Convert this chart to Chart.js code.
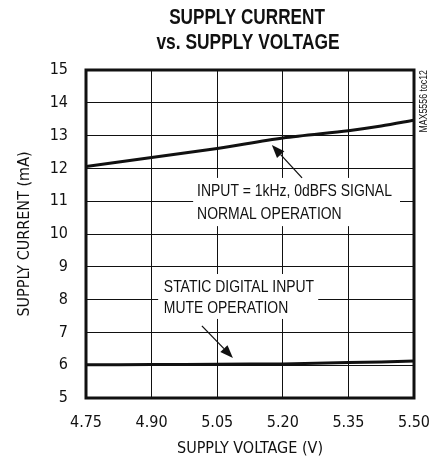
<!DOCTYPE html>
<html><head><meta charset="utf-8">
<script src="https://cdn.jsdelivr.net/npm/chart.js@4"></script>
<style>html,body{margin:0;padding:0;background:#fff;}#wrap{width:438px;height:461px;}</style>
</head><body><div id="wrap"><canvas id="c" width="438" height="461"></canvas></div>
<script>
const voltage = [4.75, 4.90, 5.05, 5.20, 5.35, 5.425, 5.50];
const normalCurrent = [12.06, 12.33, 12.61, 12.93, 13.15, 13.29, 13.47];
const muteCurrent = [6.01, 6.02, 6.03, 6.04, 6.08, 6.10, 6.13];
const xTickValues = [4.75, 4.90, 5.05, 5.20, 5.35, 5.50];
const yTickValues = [5, 6, 7, 8, 9, 10, 11, 12, 13, 14, 15];
const titleLines = ['SUPPLY CURRENT', 'vs. SUPPLY VOLTAGE'];
const xTitle = 'SUPPLY VOLTAGE (V)';
const yTitle = 'SUPPLY CURRENT (mA)';
const sideNote = 'MAX5556 toc12';
const noteNormal = ['INPUT = 1kHz, 0dBFS SIGNAL', 'NORMAL OPERATION'];
const noteMute = ['STATIC DIGITAL INPUT', 'MUTE OPERATION'];

const FONT = '"Liberation Sans Narrow", "DejaVu Sans Condensed", "Liberation Sans", sans-serif';

const annotations = [
  {box:[4.995, 11.71, 5.468, 10.24], textX:5.004, lines:noteNormal, lineY:[11.31, 10.61],
   arrow:[5.244, 11.71, 5.175, 12.71]},
  {box:[4.915, 8.78, 5.281, 7.41], textX:4.928, lines:noteMute, lineY:[8.38, 7.74],
   arrow:[5.015, 7.20, 5.086, 6.22]}
];

function narrowText(ctx, text, x, y, font, align, sx){
  ctx.save();
  ctx.font = font;
  ctx.textAlign = align; ctx.textBaseline='middle';
  ctx.translate(x, y);
  ctx.scale(sx, 1);
  ctx.fillText(text, 0, 0);
  ctx.restore();
}

const extras = {
  id:'extras',
  beforeDatasetsDraw(chart){
    const {ctx, scales:{x, y}} = chart;
    ctx.save();
    annotations.forEach(a=>{
      const x1=x.getPixelForValue(a.box[0]), y1=y.getPixelForValue(a.box[1]);
      const x2=x.getPixelForValue(a.box[2]), y2=y.getPixelForValue(a.box[3]);
      ctx.fillStyle='#fff';
      ctx.fillRect(x1,y1,x2-x1,y2-y1);
      ctx.fillStyle='#111';
      a.lines.forEach((t,i)=>narrowText(ctx, t, x.getPixelForValue(a.textX), y.getPixelForValue(a.lineY[i]), '17px "Liberation Sans", Arial, sans-serif', 'left', 0.82));
    });
    ctx.restore();
  },
  afterDatasetsDraw(chart){
    const {ctx, chartArea:ca, scales:{x, y}} = chart;
    ctx.save();
    annotations.forEach(a=>{
      const x1=x.getPixelForValue(a.arrow[0]), y1=y.getPixelForValue(a.arrow[1]);
      const x2=x.getPixelForValue(a.arrow[2]), y2=y.getPixelForValue(a.arrow[3]);
      const ang=Math.atan2(y2-y1,x2-x1);
      const L=13, W=5;
      const bx=x2-L*Math.cos(ang), by=y2-L*Math.sin(ang);
      ctx.strokeStyle='#111'; ctx.lineWidth=1.3;
      ctx.beginPath(); ctx.moveTo(x1,y1); ctx.lineTo(bx,by); ctx.stroke();
      ctx.fillStyle='#111';
      ctx.beginPath();
      ctx.moveTo(x2,y2);
      ctx.lineTo(bx+W*Math.sin(ang), by-W*Math.cos(ang));
      ctx.lineTo(bx-W*Math.sin(ang), by+W*Math.cos(ang));
      ctx.closePath(); ctx.fill();
    });
    ctx.strokeStyle='#111'; ctx.lineWidth=3;
    ctx.strokeRect(ca.left, ca.top, ca.right-ca.left, ca.bottom-ca.top);
    ctx.restore();
  },
  afterDraw(chart){
    const {ctx, chartArea:ca} = chart;
    ctx.save();
    ctx.fillStyle='#111';
    const cx=(ca.left+ca.right)/2;
    narrowText(ctx, titleLines[0], cx - 3, 18, 'bold 22px "Liberation Sans", Arial, sans-serif', 'center', 0.78);
    narrowText(ctx, titleLines[1], cx - 2, 43, 'bold 22px "Liberation Sans", Arial, sans-serif', 'center', 0.79);
    ctx.translate(ca.right+10, ca.top);
    ctx.rotate(-Math.PI/2);
    narrowText(ctx, sideNote, 0, 0, '11px "Liberation Sans", Arial, sans-serif', 'right', 0.8);
    ctx.restore();
  }
};

new Chart(document.getElementById('c'), {
  type:'line',
  data:{
    datasets:[
      {data: voltage.map((v,i)=>({x:v, y:normalCurrent[i]})), borderColor:'#111', borderWidth:3, pointRadius:0, tension:0.3, fill:false},
      {data: voltage.map((v,i)=>({x:v, y:muteCurrent[i]})), borderColor:'#111', borderWidth:3, pointRadius:0, tension:0.3, fill:false}
    ]
  },
  options:{
    responsive:false, animation:false,
    layout:{padding:{top:70, right:24, left:0, bottom:0}},
    plugins:{legend:{display:false}, tooltip:{enabled:false}, title:{display:false}},
    scales:{
      x:{type:'linear', min:4.75, max:5.50,
        afterBuildTicks(s){ s.ticks = xTickValues.map(v=>({value:v})); },
        afterFit(s){ s.height = 63; s.paddingLeft = 0; s.paddingRight = 0; },
        grid:{color:'#111', lineWidth:1, drawTicks:false},
        border:{display:false},
        ticks:{color:'#111', font:{family:FONT, size:16}, padding:15, maxRotation:0,
          callback:(v)=>Number(v).toFixed(2)},
        title:{display:true, text:xTitle, color:'#111', font:{family:FONT, size:16}, padding:{top:0, bottom:3}}
      },
      y:{min:5, max:15,
        afterBuildTicks(s){ s.ticks = yTickValues.map(v=>({value:v})); },
        afterFit(s){ s.width = 86; s.paddingTop = 0; s.paddingBottom = 0; },
        grid:{color:'#111', lineWidth:1, drawTicks:false},
        border:{display:false},
        ticks:{color:'#111', font:{family:FONT, size:16}, padding:18},
        title:{display:true, text:yTitle, color:'#111', font:{family:FONT, size:16}, padding:{top:15, bottom:0}}
      }
    }
  },
  plugins:[extras]
});
</script></body></html>
